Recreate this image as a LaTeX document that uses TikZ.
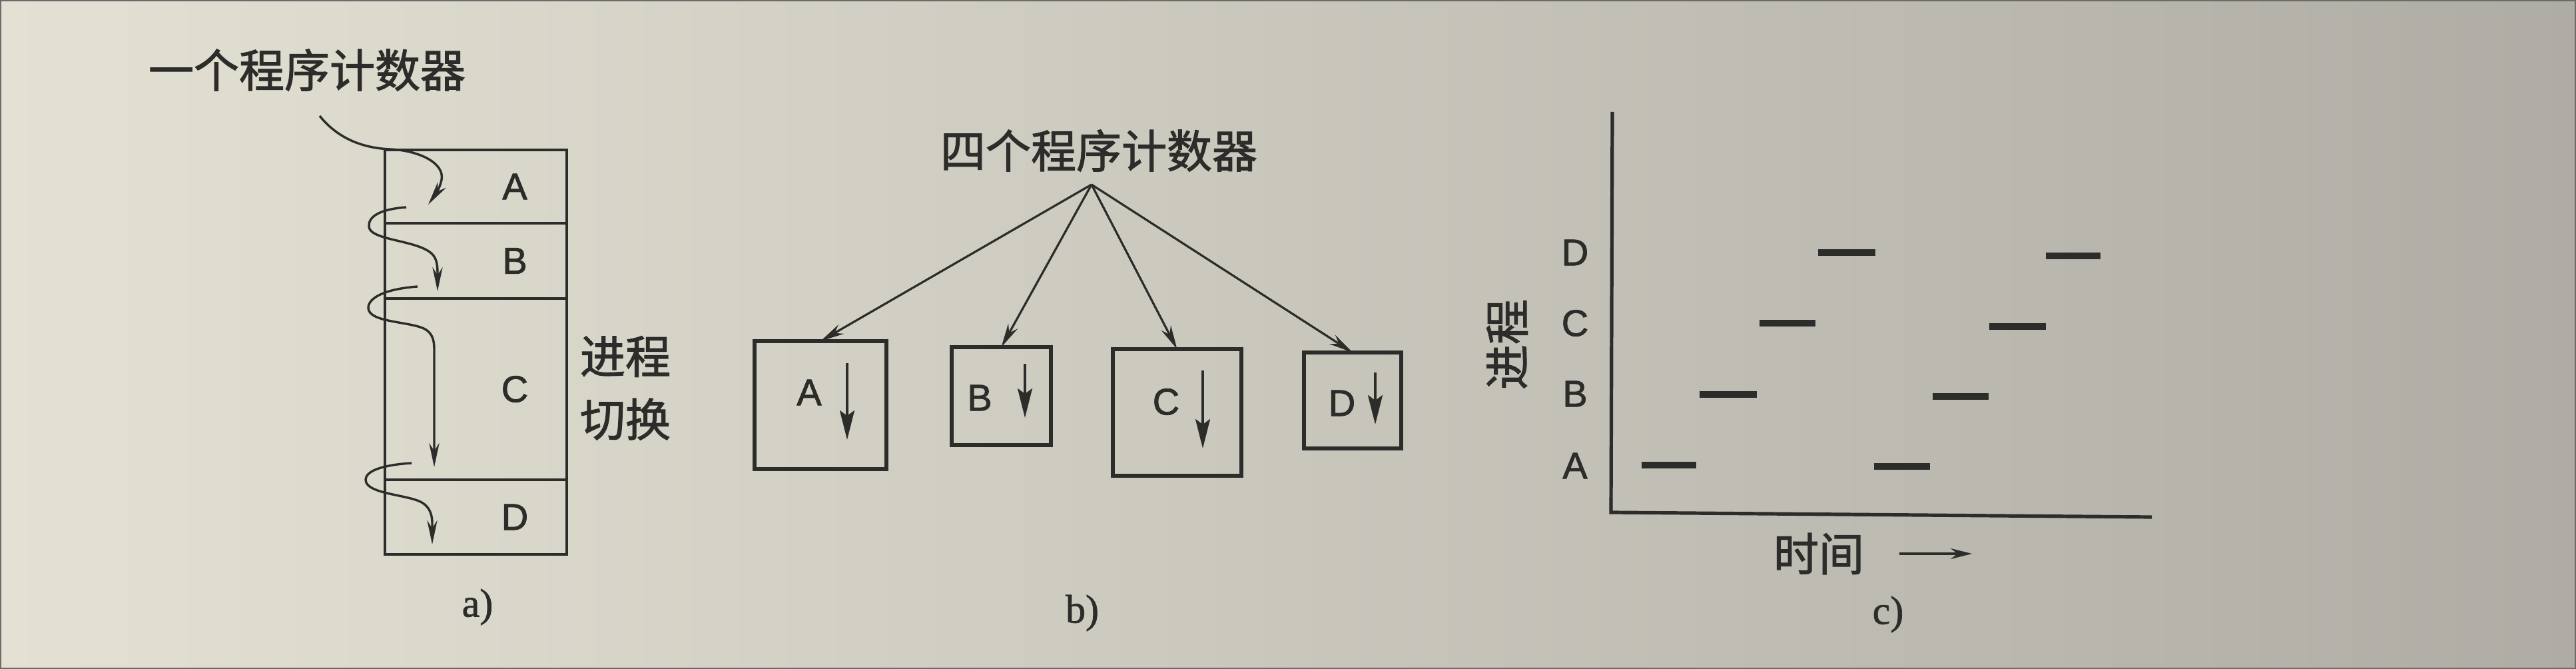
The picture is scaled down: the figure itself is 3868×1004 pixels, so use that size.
\documentclass[tikz,border=0pt]{standalone}
\usepackage{fontspec}
\setmainfont{Liberation Sans}[FakeBold=1.5]
\newfontfamily\cjkfont{Noto Sans CJK SC}[FakeBold=1.6]
\newfontfamily\capfont{Liberation Serif}[FakeBold=1.2]
\usetikzlibrary{arrows.meta,positioning}

\definecolor{ink}{RGB}{44,44,42}
\definecolor{paperl}{RGB}{228,225,212}
\definecolor{paperm}{RGB}{213,212,203}
\definecolor{paperr}{RGB}{174,172,164}

\tikzset{
  cell/.style={draw=ink, line width=1.1pt, minimum width=68.25pt, inner sep=0pt, outer sep=0pt},
  pcbox/.style={draw=ink, line width=1.3pt, inner sep=0pt, outer sep=0pt},
  letter/.style={text=ink, font=\fontsize{14}{17}\selectfont},
  hanzi/.style={text=ink, font=\cjkfont\fontsize{17}{20}\selectfont},
  sub/.style={text=ink, font=\capfont\fontsize{15}{18}\selectfont},
  pcarrow/.style={draw=ink, line width=0.85pt, -{Stealth[length=9pt,width=3.8pt]}},
  fanout/.style={draw=ink, line width=0.8pt, -{Stealth[length=9pt,width=4pt]}},
  runarrow/.style={draw=ink, line width=1pt, -{Stealth[length=11pt,width=5.5pt,inset=2pt]}},
  burst/.style={draw=ink, line width=2.3pt},
  axis/.style={draw=ink, line width=1.3pt}
}

\begin{document}
\begin{tikzpicture}[x=0.25pt, y=-0.25pt]

    % Paper
    \useasboundingbox (0,0) rectangle (3868,1004);
    \shade[left color=paperl, middle color=paperm, right color=paperr] (0,0) rectangle (3868,1004);
    \draw[line width=0.5pt, ink!70] (1,1) rectangle (3867,1003);

    % a) one program counter
    \node[hanzi] (onepc) at (461,105) {一个程序计数器};
    \node[cell, minimum height=27.5pt, anchor=north west] (cellA) at (578,225) {};
    \node[cell, minimum height=28.25pt, below=0pt of cellA] (cellB) {};
    \node[cell, minimum height=68pt, below=0pt of cellB] (cellC) {};
    \node[cell, minimum height=28pt, below=0pt of cellC] (cellD) {};
    \foreach \c in {A,B,C,D} {
        \node[letter] (lbl\c) at ([xshift=-19.5pt]cell\c.east) {\c};
    }
    \node[hanzi] (switchA) at (939,535) {进程};
    \node[hanzi] (switchB) at (939,629) {切换};

    \coordinate (pc) at (480,174);
    \draw[pcarrow] (pc) .. controls (505,205) and (540,222) .. (586,224)
        .. controls (630,226) and (668,245) .. (663,270)
        .. controls (660,285) and (650,297) .. (643,307);
    \draw[pcarrow] (610,311) .. controls (570,314) and (553,325) .. (554,340)
        .. controls (555,360) and (620,360) .. (645,378)
        .. controls (655,385) and (657,395) .. (657,410) -- (657,437);
    \draw[pcarrow] (627,430) .. controls (575,434) and (553,448) .. (553,462)
        .. controls (553,485) and (620,482) .. (640,495)
        .. controls (650,502) and (652,512) .. (652,525) -- (652,701);
    \draw[pcarrow] (618,695) .. controls (570,698) and (549,708) .. (549,720)
        .. controls (549,742) and (615,742) .. (635,755)
        .. controls (645,762) and (649,772) .. (649,785) -- (649,817);

    \node[sub] (capa) at (717,911) {a)};

    % b) four program counters
    \node[hanzi] (fourpc) at (1650,226) {四个程序计数器};
    \coordinate (hub) at (1639,277);
    \node[pcbox, minimum width=49.5pt, minimum height=48pt] (boxA) at (1232,608) {};
    \node[pcbox, minimum width=37.25pt, minimum height=36.75pt] (boxB) at (1503.5,594.5) {};
    \node[pcbox, minimum width=48.25pt, minimum height=47.5pt] (boxC) at (1767.5,619) {};
    \node[pcbox, minimum width=36.5pt, minimum height=36pt] (boxD) at (2031,601) {};
    \foreach \b in {A,B,C,D} {
        \draw[fanout] (hub) -- (box\b.north);
    }
    \foreach \c/\x/\y in {A/1215/589, B/1471/597, C/1751/603, D/2015/605} {
        \node[letter] (in\c) at (\x,\y) {\c};
    }
    \foreach \x/\ya/\yb in {1272/545/660, 1539/546/627, 1806/556/673, 2065/559/637} {
        \draw[runarrow] (\x,\ya) -- (\x,\yb);
    }
    \node[sub] (capb) at (1625,920) {b)};

    % c) time line
    \coordinate (orig) at (2419,769);
    \coordinate (ytop) at (2421,168);
    \coordinate (xend) at (3231,776);
    \draw[axis] (ytop) -- (orig) -- (xend);
    \foreach \c/\y in {A/699, B/591, C/485, D/379} {
        \node[letter] (row\c) at (2365,\y) {\c};
    }
    \foreach \xa/\xb/\y in {2465/2547/698, 2552/2638/592, 2642/2726/485, 2730/2816/379,
                            2814/2898/700, 2902/2986/595, 2987/3072/490, 3072/3154/384} {
        \draw[burst] (\xa,\y) -- (\xb,\y);
    }
    \node[hanzi, rotate=90] (proc) at (2263,517) {进程};
    \node[hanzi] (time) at (2731,831) {时间};
    \coordinate (tstart) at (2852,831);
    \coordinate (tend) at (2961,831);
    \draw[draw=ink, line width=0.8pt, -{Stealth[length=8pt,width=4pt]}] (tstart) -- (tend);
    \node[sub] (capc) at (2835,922) {c)};

\end{tikzpicture}
\end{document}
